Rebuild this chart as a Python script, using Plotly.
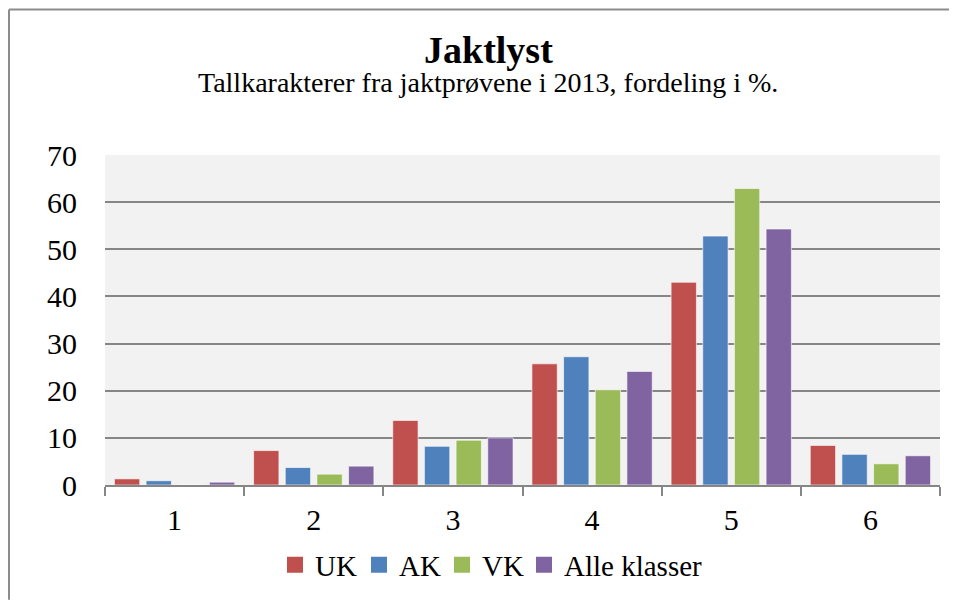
import plotly.graph_objects as go

categories = ["1", "2", "3", "4", "5", "6"]
uk = [1.3, 7.3, 13.7, 25.7, 43.0, 8.4]
ak = [0.9, 3.7, 8.2, 27.2, 52.8, 6.5]
vk = [0.0, 2.3, 9.5, 20.2, 62.9, 4.5]
alle = [0.6, 4.0, 10.0, 24.1, 54.3, 6.2]

series = [
    ("UK", uk, "#C0504D", 39),
    ("AK", ak, "#4F81BD", 38),
    ("VK", vk, "#9BBB59", 37),
    ("Alle klasser", alle, "#8064A2", 150),
]

# page body has an 8px margin, so the figure is offset by 8px
OFF = 8
W, H = 957 - OFF, 601 - OFF
L, R, T, B = 105 - OFF, 17, 155 - OFF, 115
pw, ph = W - L - R, H - T - B


def px(x):  # page x -> paper
    return (x - OFF - L) / pw


def py(y):  # page y -> paper
    return (H - B - (y - OFF)) / ph


font = "Liberation Serif"

fig = go.Figure()
for name, vals, color, lw in series:
    fig.add_trace(go.Bar(
        x=categories, y=vals, name=name, showlegend=False,
        marker=dict(color=color, line=dict(color="rgba(255,255,255,0.6)", width=1)),
    ))
    # legend entry with larger square marker
    fig.add_trace(go.Scatter(
        x=[None], y=[None], mode="markers", name=name, legendwidth=lw,
        marker=dict(symbol="square", size=16, color=color),
    ))

fig.update_layout(
    width=W, height=H,
    margin=dict(l=L, r=R, t=T, b=B),
    paper_bgcolor="white",
    plot_bgcolor="#F2F2F2",
    font=dict(family=font, color="black", size=30),
    barmode="group",
    bargap=0.09,
    bargroupgap=0.2,
    showlegend=True,
    legend=dict(
        orientation="h", x=px(275), xanchor="left", y=py(565), yanchor="middle",
        font=dict(size=29), itemwidth=30, tracegroupgap=0,
    ),
    xaxis=dict(
        showgrid=False, showline=True, linecolor="#868686", linewidth=2,
        ticks="outside", tickson="boundaries", ticklen=9, tickwidth=2,
        tickcolor="#868686", ticklabelstandoff=7,
    ),
    yaxis=dict(
        range=[0, 70], dtick=10, showgrid=True, gridcolor="#868686", gridwidth=2,
        zeroline=False, showline=False, ticks="", ticklabelstandoff=27,
    ),
    annotations=[
        dict(text="<b>Jaktlyst</b>", x=px(488), y=py(50), xref="paper", yref="paper",
             xanchor="center", yanchor="middle", showarrow=False, font=dict(size=38)),
        dict(text="Tallkarakterer fra jaktprøvene i 2013, fordeling i %.", x=px(488), y=py(82),
             xref="paper", yref="paper", xanchor="center", yanchor="middle",
             showarrow=False, font=dict(size=28)),
    ],
    shapes=[
        dict(type="line", xref="paper", yref="paper", x0=px(9), x1=px(957), y0=py(9), y1=py(9),
             line=dict(color="#8C8C8C", width=2)),
        dict(type="line", xref="paper", yref="paper", x0=px(9), x1=px(9), y0=py(9), y1=py(601),
             line=dict(color="#8C8C8C", width=2)),
    ],
)

fig.write_html("out.html")
